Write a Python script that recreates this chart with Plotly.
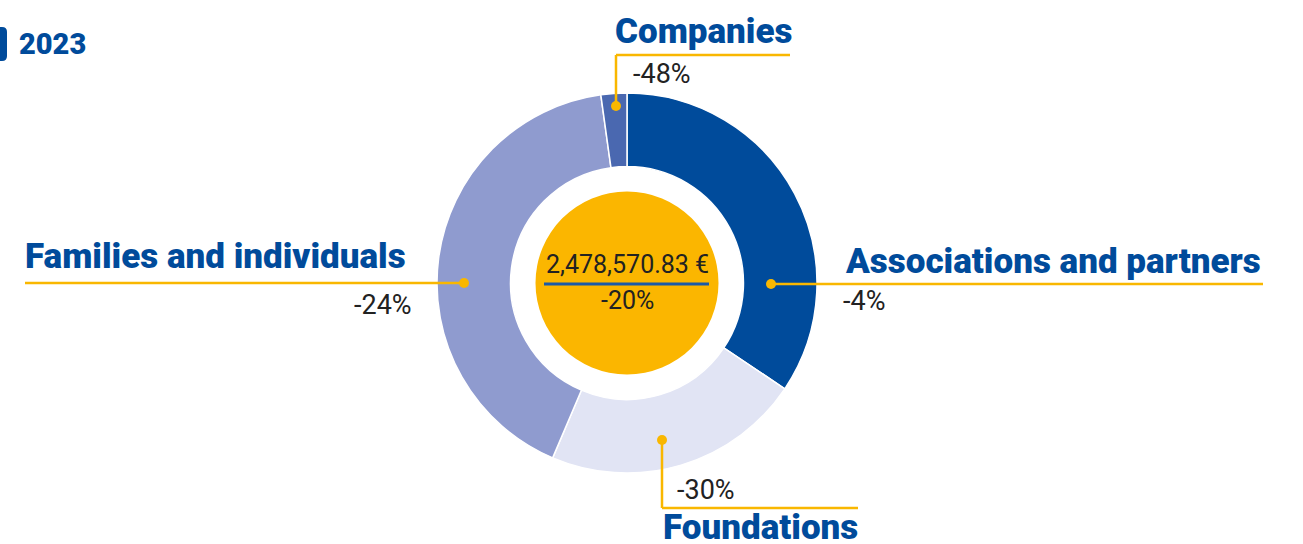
import plotly.graph_objects as go

W, H = 1303, 544

# ---- data ----
categories = ["Associations and partners", "Foundations", "Families and individuals", "Companies"]
shares = [34.4, 22.0, 41.4, 2.2]          # share of total (%)
changes = ["-4%", "-30%", "-24%", "-48%"]  # year-on-year change
colors = ["#004b9b", "#e1e4f4", "#8f9bcf", "#4a68b0"]
total_label = "2,478,570.83 €"
total_change = "-20%"
year = "2023"

BLUE = "#004b9b"
ORANGE = "#f9b700"
DARK = "#222222"

def px(x):
    return x / W

def py(y):
    return 1 - y / H

cx, cy, R = 627, 283, 190

fig = go.Figure()
fig.add_trace(go.Pie(
    labels=categories, values=shares, sort=False, direction="clockwise", rotation=0,
    hole=0.613, marker=dict(colors=colors, line=dict(color="white", width=1.5)),
    textinfo="none", hoverinfo="label+percent", showlegend=False,
    domain=dict(x=[px(cx - R), px(cx + R)], y=[py(cy + R), py(cy - R)]),
))

shapes = []
annotations = []

# center disc
rc = 91.5
shapes.append(dict(type="circle", xref="paper", yref="paper",
                   x0=px(cx - rc), x1=px(cx + rc), y0=py(cy + rc), y1=py(cy - rc),
                   fillcolor="#fbb600", line=dict(width=0)))
shapes.append(dict(type="line", xref="paper", yref="paper",
                   x0=px(544), x1=px(709), y0=py(284), y1=py(284),
                   line=dict(color="#1a5aa8", width=3)))
annotations.append(dict(x=px(cx), y=py(265), xref="paper", yref="paper", text=total_label,
                        showarrow=False, font=dict(family="Roboto", size=25, color=DARK),
                        xanchor="center", yanchor="middle"))
annotations.append(dict(x=px(cx), y=py(300), xref="paper", yref="paper", text=total_change,
                        showarrow=False, font=dict(family="Roboto", size=25, color=DARK),
                        xanchor="center", yanchor="middle"))

# callouts: polyline points, dot, title position, change position
callouts = [
    # Associations
    dict(path=[(771, 284), (1263, 284)], dot=(771, 284),
         title=(845, 261, "left"), change=(843, 301, "left")),
    # Foundations
    dict(path=[(662, 440), (662, 508), (858, 508)], dot=(662, 440),
         title=(663, 527, "left"), change=(677, 490, "left")),
    # Families
    dict(path=[(464, 283), (25, 283)], dot=(464, 283),
         title=(25, 256, "left"), change=(412, 305, "right")),
    # Companies
    dict(path=[(616, 106), (616, 55), (790, 55)], dot=(616, 106),
         title=(615, 31, "left"), change=(633, 74, "left")),
]

for cat, chg, c in zip(categories, changes, callouts):
    pts = c["path"]
    for (x0, y0), (x1, y1) in zip(pts[:-1], pts[1:]):
        shapes.append(dict(type="line", xref="paper", yref="paper",
                           x0=px(x0), y0=py(y0), x1=px(x1), y1=py(y1),
                           line=dict(color=ORANGE, width=2.5)))
    dx, dy = c["dot"]
    r = 5
    shapes.append(dict(type="circle", xref="paper", yref="paper",
                       x0=px(dx - r), x1=px(dx + r), y0=py(dy + r), y1=py(dy - r),
                       fillcolor=ORANGE, line=dict(width=0)))
    tx, ty, ta = c["title"]
    annotations.append(dict(x=px(tx), y=py(ty), xref="paper", yref="paper",
                            text=cat, showarrow=False,
                            font=dict(family="Roboto", size=35, color=BLUE, weight=900),
                            xanchor=ta, yanchor="middle", xshift=-2 if ta == "left" else 2))
    vx, vy, va = c["change"]
    annotations.append(dict(x=px(vx), y=py(vy), xref="paper", yref="paper",
                            text=chg, showarrow=False,
                            font=dict(family="Roboto", size=27, color=DARK),
                            xanchor=va, yanchor="middle", xshift=-2 if va == "left" else 2))

# year badge (rounded right corners)
bx0, bx1, by0, by1, rr = -8, 7, 27, 61, 5
badge_path = (f"M {px(bx0)},{py(by0)} L {px(bx1 - rr)},{py(by0)} "
              f"Q {px(bx1)},{py(by0)} {px(bx1)},{py(by0 + rr)} "
              f"L {px(bx1)},{py(by1 - rr)} Q {px(bx1)},{py(by1)} {px(bx1 - rr)},{py(by1)} "
              f"L {px(bx0)},{py(by1)} Z")
shapes.append(dict(type="path", xref="paper", yref="paper", path=badge_path,
                   fillcolor=BLUE, line=dict(width=0)))
annotations.append(dict(x=px(19), y=py(44), xref="paper", yref="paper",
                        text=year, showarrow=False,
                        font=dict(family="Roboto", size=29, color=BLUE, weight=900),
                        xanchor="left", yanchor="middle", xshift=-2))

fig.update_layout(
    width=W, height=H, margin=dict(l=0, r=0, t=0, b=0),
    paper_bgcolor="white", plot_bgcolor="white",
    shapes=shapes, annotations=annotations,
)

fig.write_html("out.html", config={"displayModeBar": False},
               post_script="document.body.style.margin='0';document.body.style.overflow='hidden';")
